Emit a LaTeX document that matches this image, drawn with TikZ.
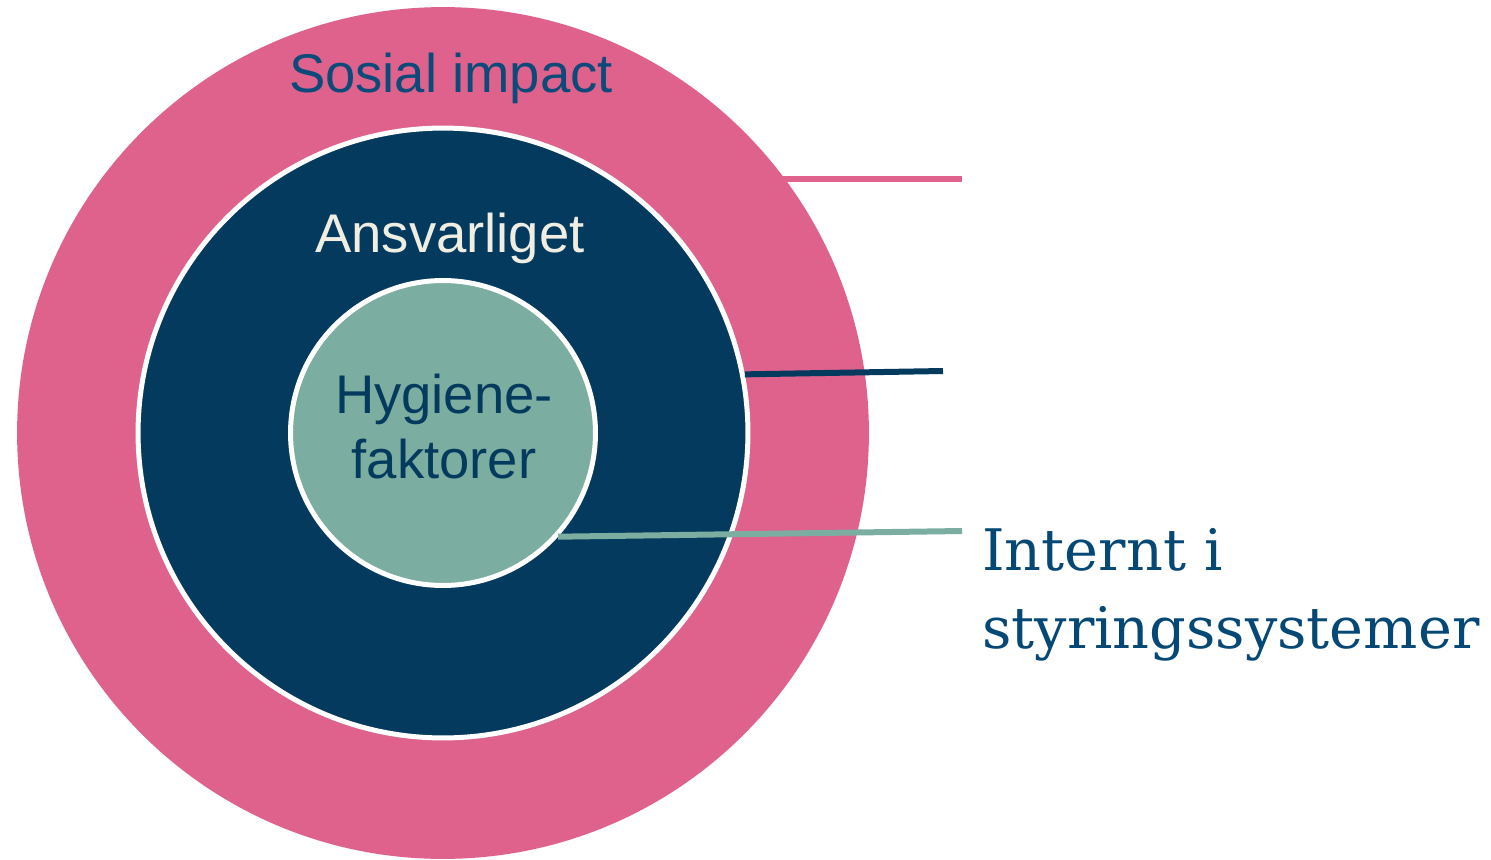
\documentclass[tikz,border=0pt]{standalone}
\usepackage{fontspec}
\setmainfont{DejaVu Serif}
\setsansfont{Liberation Sans}
\usetikzlibrary{positioning}

\definecolor{impactpink}{RGB}{222,98,140}
\definecolor{ansvarnavy}{RGB}{5,58,95}
\definecolor{hygteal}{RGB}{123,174,160}
\definecolor{labelcream}{RGB}{240,238,226}
\definecolor{labelblue}{RGB}{12,74,122}
\definecolor{serifblue}{RGB}{6,72,117}

\begin{document}
\begin{tikzpicture}[
    x=0.02cm, y=-0.02cm,
    ring/.style={
      circle,
      inner sep=0pt,
      draw=white,
      line width=0.1cm
    },
    ringtext/.style={
      font=\sffamily\fontsize{31}{37}\selectfont,
      align=center,
      inner sep=0pt
    },
    link/.style={
      line width=0.12cm
    },
    sidetext/.style={
      font=\fontsize{32.6}{44.2}\selectfont,
      text=serifblue,
      align=left,
      inner sep=0pt
    }
  ]
    \useasboundingbox (0,0) rectangle (1491,859);

    % Rings, outer to inner
    \node (impact) [circle, inner sep=0pt, fill=impactpink, minimum size=17.04cm] at (443,433) {};
    \node (ansvar) [ring, fill=ansvarnavy, minimum size=12.2cm] at (impact.center) {};
    \node (hygiene) [ring, fill=hygteal, minimum size=6.1cm] at (impact.center) {};

    % Ring labels
    \node (impacttxt) [ringtext, text=labelblue, anchor=base] at (451,92) {Sosial impact};
    \node (ansvartxt) [ringtext, text=labelcream, anchor=base] at (450,252) {Ansvarliget};
    \node (hygienetxt) [ringtext, text=ansvarnavy] at (444,427) {Hygiene-\\faktorer};

    % Leader lines out to the right
    \coordinate (impactend) at (962,179);
    \coordinate (ansvarend) at (943,371);
    \coordinate (hygieneend) at (962,531);

    \draw [link, impactpink] (impact.37 |- impactend) -- (impactend);
    \draw [link, ansvarnavy] (ansvar.11) -- (ansvarend);
    \draw [link, hygteal] (hygiene.-42) -- (hygieneend);

    \node (internt) [sidetext, anchor=north west] at (982,528) {Internt i\\styringssystemer};

  \end{tikzpicture}
\end{document}
